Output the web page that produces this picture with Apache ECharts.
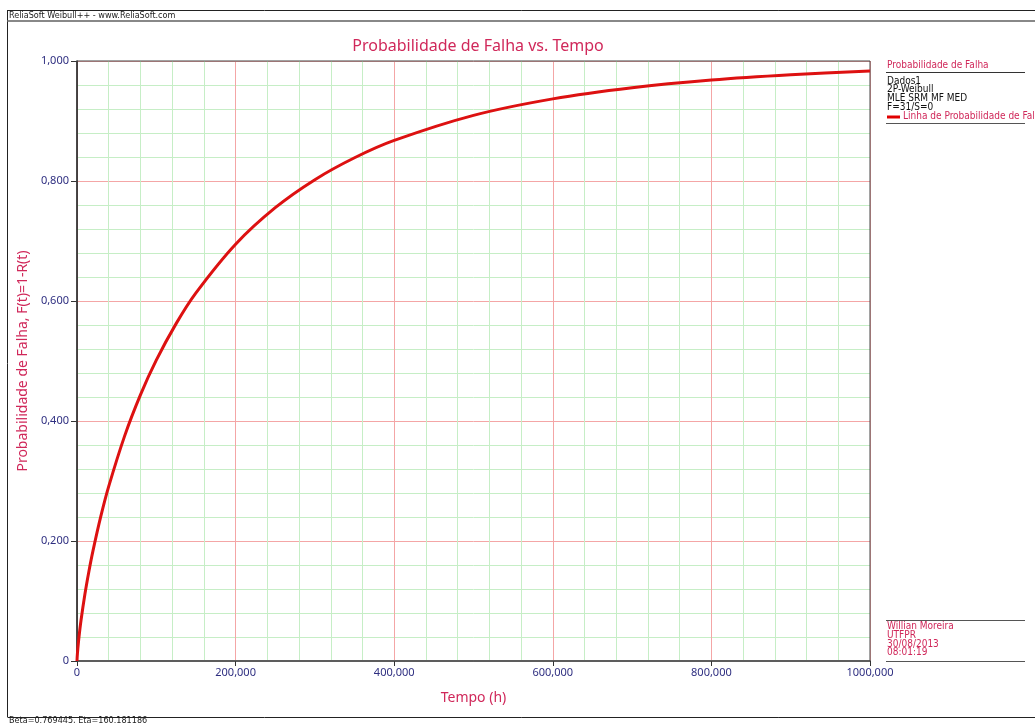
<!DOCTYPE html>
<html>
<head>
<meta charset="utf-8">
<script src="https://cdn.jsdelivr.net/npm/echarts@6/dist/echarts.min.js"></script>
<style>html,body{margin:0;padding:0;background:#fff;}#c{width:1035px;height:723px;}</style>
</head>
<body>
<div id="c"></div>
<script>
// Time (h) values at which the failure probability curve was read
const tHours = [0, 200, 500, 1000, 2500, 5000, 10000, 15000, 20000, 30000, 40000, 60000, 80000, 100000, 125000, 150000, 200000, 250000, 300000, 350000, 400000, 500000, 600000, 700000, 800000, 900000, 1000000];
// F(t) = 1 - R(t)
const probF = [0, 0.0058, 0.0117, 0.0199, 0.0399, 0.0671, 0.1116, 0.1493, 0.1827, 0.2409, 0.2910, 0.3748, 0.4435, 0.5014, 0.5623, 0.6135, 0.6946, 0.7555, 0.8022, 0.8387, 0.8676, 0.9094, 0.9369, 0.9554, 0.9682, 0.9770, 0.9833];
const xTickLabels = ['0', '200,000', '400,000', '600,000', '800,000', '1000,000'];
const yTickLabels = ['0', '0,200', '0,400', '0,600', '0,800', '1,000'];
const chartTitle = 'Probabilidade de Falha vs. Tempo';
const xName = 'Tempo (h)';
const yName = 'Probabilidade de Falha, F(t)=1-R(t)';
const headerText = 'ReliaSoft Weibull++ - www.ReliaSoft.com';
const footerText = 'Beta=0.769445, Eta=160.181186';
const legendTitle = 'Probabilidade de Falha';
const legendInfo = ['Dados1', '2P-Weibull', 'MLE SRM MF MED', 'F=31/S=0'];
const legendLine = 'Linha de Probabilidade de Falha';
const authorInfo = ['Willian Moreira', 'UTFPR', '30/08/2013', '08:01:19'];

const crimson = '#d0285a';
const navy = '#2e2e80';
const font = 'Noto Sans';
const smallFont = 'DejaVu Sans Condensed';
const majorColor = '#f4a6a6';
const minorColor = '#c6eec6';

const chart = echarts.init(document.getElementById('c'));
const graphics = [
  {type: 'line', shape: {x1: 7.5, y1: 10.5, x2: 1035, y2: 10.5}, style: {stroke: '#222', lineWidth: 1}},
  {type: 'line', shape: {x1: 7.5, y1: 10, x2: 7.5, y2: 717}, style: {stroke: '#222', lineWidth: 1}},
  {type: 'line', shape: {x1: 7.5, y1: 21, x2: 1035, y2: 21}, style: {stroke: '#888', lineWidth: 2}},
  {type: 'line', shape: {x1: 7.5, y1: 717.5, x2: 1035, y2: 717.5}, style: {stroke: '#222', lineWidth: 1}},
  {type: 'text', left: 9, top: 11, style: {text: headerText, font: '9px ' + smallFont, fill: '#222'}},
  {type: 'text', left: 9, top: 716, style: {text: footerText, font: '9px ' + smallFont, fill: '#222'}},
  {type: 'text', left: 887, top: 60, style: {text: legendTitle, font: '10px ' + smallFont, fill: crimson}},
  {type: 'line', shape: {x1: 886, y1: 72.5, x2: 1025, y2: 72.5}, style: {stroke: '#333', lineWidth: 1}},
  {type: 'text', left: 887, top: 76, style: {text: legendInfo.join('\n'), font: '10px ' + smallFont, fill: '#111', lineHeight: 8.8}},
  {type: 'line', shape: {x1: 887, y1: 117, x2: 900, y2: 117}, style: {stroke: '#e00000', lineWidth: 3}},
  {type: 'text', left: 903, top: 111.5, style: {text: legendLine, font: '10px ' + smallFont, fill: crimson}},
  {type: 'line', shape: {x1: 886, y1: 123.5, x2: 1025, y2: 123.5}, style: {stroke: '#555', lineWidth: 1}},
  {type: 'line', shape: {x1: 886, y1: 620.5, x2: 1025, y2: 620.5}, style: {stroke: '#555', lineWidth: 1}},
  {type: 'text', left: 887, top: 621.5, style: {text: authorInfo.join('\n'), font: '10px ' + smallFont, fill: crimson, lineHeight: 8.8}},
  {type: 'line', shape: {x1: 886, y1: 661.5, x2: 1025, y2: 661.5}, style: {stroke: '#555', lineWidth: 1}}
];

chart.setOption({
  animation: false,
  backgroundColor: '#fff',
  title: {
    text: chartTitle, left: 473, top: 33, textAlign: 'center',
    textStyle: {color: crimson, fontFamily: font, fontSize: 16, fontWeight: 'normal'}
  },
  grid: {left: 77, right: 165, top: 61, bottom: 62, show: true, borderColor: '#444', borderWidth: 1, z: 3},
  xAxis: {
    type: 'value', min: 0, max: 1000000, interval: 200000,
    name: xName, nameLocation: 'middle', nameGap: 30,
    nameTextStyle: {color: crimson, fontFamily: font, fontSize: 14},
    axisLine: {show: true, onZero: false, lineStyle: {color: '#777', width: 2}},
    axisTick: {show: true, length: 5, lineStyle: {color: '#333'}},
    axisLabel: {color: navy, fontFamily: font, fontSize: 11, margin: 6,
      formatter: (v) => xTickLabels[Math.round(v / 200000)]},
    splitLine: {show: true, lineStyle: {color: [majorColor], width: 1, opacity: 1}},
    minorTick: {show: false, splitNumber: 5},
    minorSplitLine: {show: true, lineStyle: {color: minorColor, width: 1, opacity: 1}}
  },
  yAxis: {
    type: 'value', min: 0, max: 1, interval: 0.2,
    name: yName, nameLocation: 'middle', nameGap: 41,
    nameTextStyle: {color: crimson, fontFamily: font, fontSize: 14},
    axisLine: {show: true, onZero: false, lineStyle: {color: '#111', width: 1.5}},
    axisTick: {show: true, length: 6, lineStyle: {color: '#333'}},
    axisLabel: {color: navy, fontFamily: font, fontSize: 11, margin: 8,
      formatter: (v) => yTickLabels[Math.round(v / 0.2)]},
    splitLine: {show: true, lineStyle: {color: [majorColor], width: 1, opacity: 1}},
    minorTick: {show: false, splitNumber: 5},
    minorSplitLine: {show: true, lineStyle: {color: minorColor, width: 1, opacity: 1}}
  },
  series: [{
    type: 'line', smooth: 0.3, showSymbol: false,
    data: tHours.map((t, i) => [t, probF[i]]),
    lineStyle: {color: '#dd1111', width: 3},
    z: 5
  }],
  graphic: graphics
});
</script>
</body>
</html>
